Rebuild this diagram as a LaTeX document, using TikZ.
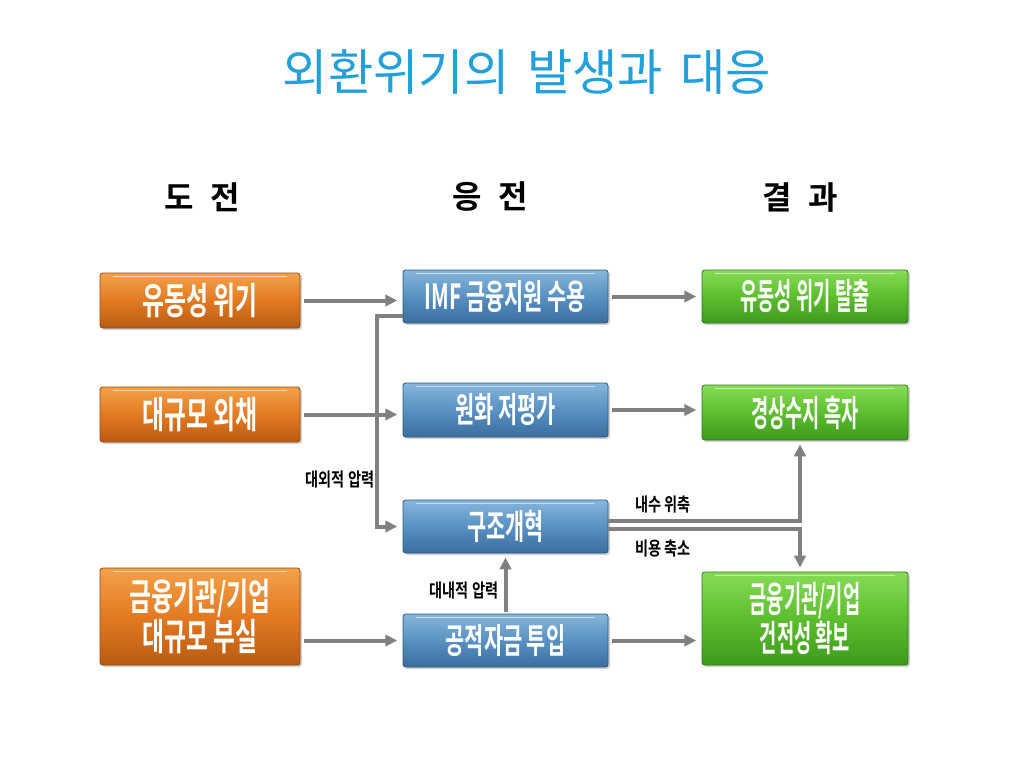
\documentclass[tikz,border=0pt]{standalone}
\usepackage{fontspec}
\usetikzlibrary{arrows.meta,calc,shadows}
\newfontfamily\krfont{Noto Sans CJK KR}
\newfontfamily\krbold{Noto Sans CJK KR Bold}
\newfontfamily\fontor[FakeStretch=0.64]{Noto Sans CJK KR Bold}
\newfontfamily\fontbl[FakeStretch=0.60]{Noto Sans CJK KR Bold}
\newfontfamily\fontgr[FakeStretch=0.52]{Noto Sans CJK KR Bold}
\newfontfamily\fontlb[FakeStretch=0.76]{Noto Sans CJK KR Bold}
\definecolor{titleblue}{HTML}{22A0DC}
\definecolor{linegray}{HTML}{808080}
\definecolor{orT}{HTML}{F2A24A}
\definecolor{orM}{HTML}{E37A22}
\definecolor{orB}{HTML}{B95B12}
\definecolor{blT}{HTML}{86B6DC}
\definecolor{blM}{HTML}{5891C2}
\definecolor{blB}{HTML}{3A6E9E}
\definecolor{grT}{HTML}{86DC55}
\definecolor{grM}{HTML}{5CBE2E}
\definecolor{grB}{HTML}{3E9A1C}
\tikzset{
  px/.style={x=0.75pt,y=-0.75pt},
  boxbase/.style={rectangle, rounded corners=2pt, line width=0.6pt,
    text=white, align=center, inner sep=0pt,
    drop shadow={opacity=0.35,shadow xshift=1.5pt,shadow yshift=-1.5pt}},
  orbox/.style={boxbase, draw=orB!80!black, top color=orT, bottom color=orB, middle color=orM,
    minimum width=150pt, font=\fontor\fontsize{28}{26}\selectfont},
  blbox/.style={boxbase, draw=blB!80!black, top color=blT, bottom color=blB, middle color=blM,
    minimum width=153.75pt, font=\fontbl\fontsize{26}{26}\selectfont},
  grbox/.style={boxbase, draw=grB!80!black, top color=grT, bottom color=grB, middle color=grM,
    minimum width=154.5pt, font=\fontgr\fontsize{27}{25.5}\selectfont},
  arr/.style={draw=linegray, line width=3pt, -{Triangle[length=9pt,width=8.5pt]}},
  lbl/.style={font=\fontlb\fontsize{14}{15}\selectfont, text=black, inner sep=0pt},
  hdr/.style={font=\krbold\fontsize{24}{26}\selectfont, text=black},
}
\begin{document}
\begin{tikzpicture}[px]
\useasboundingbox (0,0) rectangle (1024,768);
\fill[white] (0,0) rectangle (1024,768);
% title
\node[text=titleblue, font=\krfont\fontsize{37}{40}\selectfont] (title) at (527,72) {외환위기의\hspace{0.35em}발생과\hspace{0.35em}대응};
% headers
\node[hdr] (h1) at (202,197) {도\hspace{0.5em}전};
\node[hdr] (h2) at (490,197) {응\hspace{0.5em}전};
\node[hdr] (h3) at (800,197) {결\hspace{0.5em}과};
% orange boxes
\node[orbox, minimum height=41.25pt] (o1) at (200,300.5) {유동성 위기};
\node[orbox, minimum height=41.25pt] (o2) at (200,414.5) {대규모 외채};
\node[orbox, minimum height=72.75pt] (o3) at (200,616.5) {금융기관/기업\\대규모 부실};
% blue boxes
\node[blbox, minimum height=39.75pt] (b1) at (505.5,296.5) {IMF 금융지원 수용};
\node[blbox, minimum height=40.5pt] (b2) at (505.5,410) {원화 저평가};
\node[blbox, minimum height=39.75pt] (b3) at (505.5,526.5) {구조개혁};
\node[blbox, minimum height=39.75pt] (b4) at (505.5,640.5) {공적자금 투입};
% green boxes
\node[grbox, minimum height=39.75pt] (g1) at (805,296.5) {유동성 위기 탈출};
\node[grbox, minimum height=41.25pt] (g2) at (805,412.5) {경상수지 흑자};
\node[grbox, minimum height=69.75pt] (g3) at (805,618.5) {금융기관/기업\\건전성 확보};
% highlight lines on boxes
\foreach \n in {o1,o2,o3,b1,b2,b3,b4,g1,g2,g3}{
  \draw[white, opacity=0.55, line width=1.2pt, line cap=round]
    ($(\n.north west)+(14,4)$) -- ($(\n.north east)+(-14,4)$);
}
% connectors
\coordinate (vx) at (377,0);
\coordinate (vx2) at (800,0);
\draw[arr, shorten <=3pt, shorten >=4pt] (o1.east) -- (o1.east -| b1.west);
\draw[arr, shorten <=3pt, shorten >=4pt] (o2.east) -- (o2.east -| b2.west);
\draw[arr, shorten <=3pt, shorten >=4pt] (o3.east |- b4.west) -- (b4.west);
\draw[arr, shorten <=3pt, shorten >=4pt] (b1.east) -- (g1.west);
\draw[arr, shorten <=3pt, shorten >=4pt] (b2.east) -- (b2.east -| g2.west);
\draw[arr, shorten <=3pt, shorten >=4pt] (b4.east) -- (b4.east -| g3.west);
\coordinate (c1) at ($(b1.south west)+(0,-7)$);
\draw[arr, shorten >=4pt] (c1) -- (c1 -| vx) |- (b3.west);
\draw[arr, shorten <=1pt, shorten >=3pt] (b4.north) -- (b3.south);
\coordinate (r1) at ($(b3.east)+(0,-6)$);
\coordinate (r2) at ($(b3.east)+(0,2)$);
\draw[arr, shorten >=3pt] (r1) -| (vx2 |- g2.south);
\draw[arr, shorten >=3pt] (r2) -| (vx2 |- g3.north);
% labels
\node[lbl] (l1) at (340,479) {대외적 압력};
\node[lbl] (l2) at (464,590) {대내적 압력};
\node[lbl] (l3) at (663,504) {내수 위축};
\node[lbl] (l4) at (663,548) {비용 축소};
\end{tikzpicture}
\end{document}
